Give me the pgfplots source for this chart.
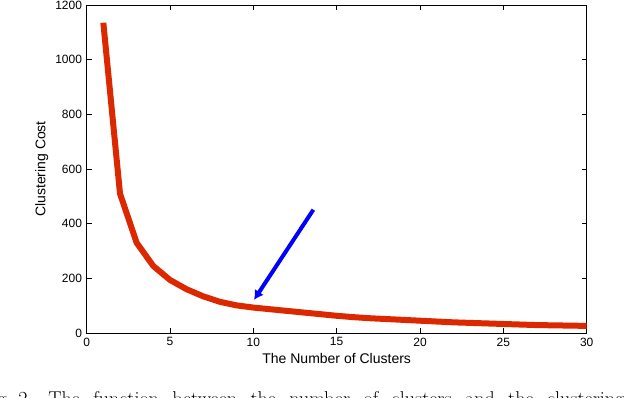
\documentclass[border=0pt]{standalone}
\usepackage{fontspec}
\setsansfont{Liberation Sans}
\usepackage{pgfplots}
\pgfplotsset{compat=1.18}
\usetikzlibrary{arrows.meta}
\definecolor{costred}{RGB}{220,40,0}
\begin{document}
\begin{tikzpicture}
  % picture frame: 1px = 0.75pt, top-left at (0,0)
  \useasboundingbox (0,0) rectangle (468pt,-298.5pt);
  \clip (0,0) rectangle (468pt,-298.5pt);
  \begin{axis}[
    at={(65pt,-249.75pt)}, anchor=south west,
    scale only axis,
    width=375pt, height=246pt,
    xmin=0, xmax=30, ymin=0, ymax=1200,
    xtick={0,5,...,30},
    ytick={0,200,...,1200},
    tick align=inside,
    major tick length=3.75pt,
    tick style={black, line width=0.6pt},
    axis line style={line width=0.6pt},
    ticklabel style={font=\sffamily\fontsize{9}{10}\selectfont},
    /pgf/number format/assume math mode=true,
    scaled y ticks=false,
    yticklabel style={/pgf/number format/1000 sep={}},
    xtick pos=both, ytick pos=both,
    xlabel={The Number of Clusters},
    ylabel={Clustering Cost},
    label style={font=\sffamily\fontsize{10.5}{12}\selectfont},
    xlabel style={at={(axis description cs:0.5,-0.0924)}, anchor=base},
    ylabel style={at={(axis description cs:-0.0824,0.5)}, anchor=base},
  ]
    \addplot[costred, line width=4.5pt, line join=round] coordinates {
      (1,1135) (2,510) (3,330) (4,245) (5,194) (6,160) (7,134) (8,114)
      (9,101) (10,93) (11,87) (12,81) (13,75) (14,69) (15,63) (16,58)
      (17,54) (18,51) (19,48) (20,45) (21,42) (22,39) (23,37) (24,35)
      (25,33) (26,31) (27,29) (28,28) (29,27) (30,26)
    };
    \draw[blue, line width=3pt, -{Latex[length=7pt,width=8pt]}]
      (axis cs:13.6,451) -- (axis cs:10.04,121);
  \end{axis}
  % figure caption (justified line), cut by the lower edge as in the scan
  \begin{scope}[every node/.style={inner sep=0pt, font=\fontsize{15}{18}\selectfont}]
    \node[anchor=base east] at (9pt,-304pt) {Fig.};
    \node[anchor=base west] at (13.5pt,-304pt) {2.};
    \node[anchor=base west] at (36pt,-304pt)
      {\makebox[432pt][s]{The function between the number of clusters and the clustering}\ cost};
  \end{scope}
\end{tikzpicture}
\end{document}
